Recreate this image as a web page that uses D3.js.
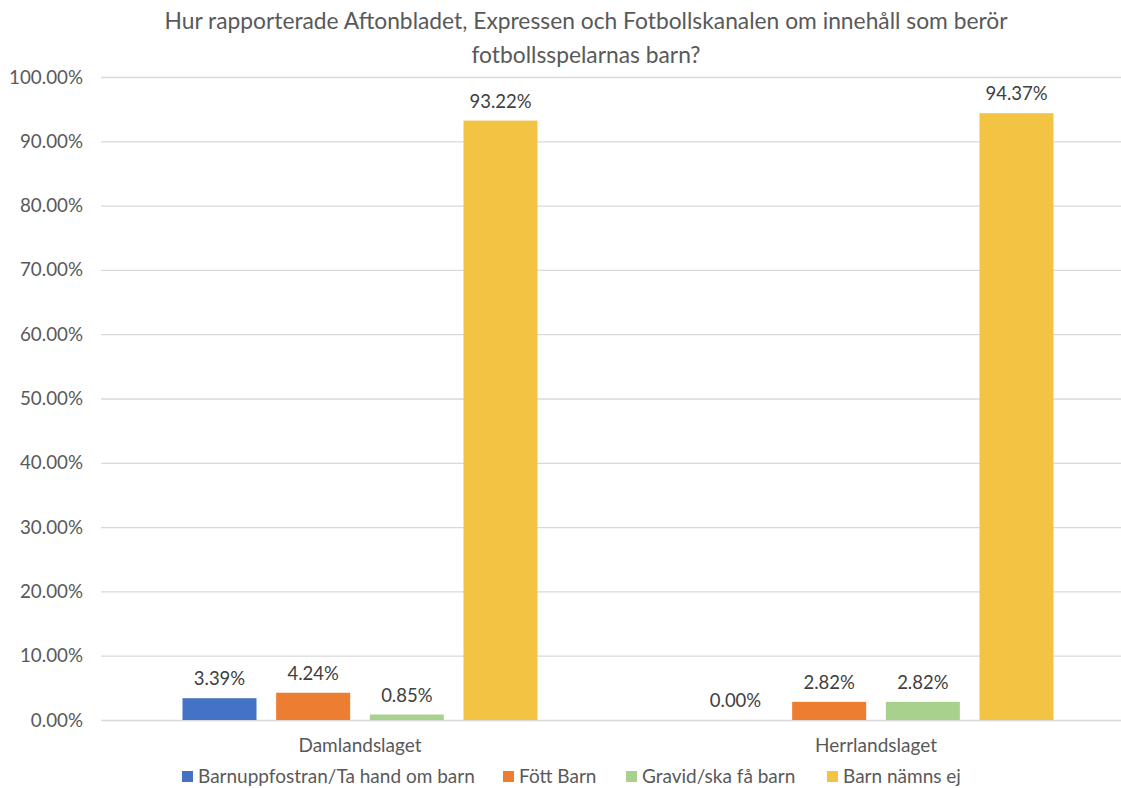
<!DOCTYPE html>
<html>
<head>
<meta charset="utf-8">
<script src="https://cdn.jsdelivr.net/npm/d3@7"></script>
<style>
  body { margin: 0; background: #fff; }
  text { font-family: Lato, "Open Sans", sans-serif; fill: #595959; }
</style>
</head>
<body>
<div id="chart"></div>
<script>
var width = 1121,
    height = 788;

var categories = ["Damlandslaget", "Herrlandslaget"];
var series = ["Barnuppfostran/Ta hand om barn", "Fött Barn", "Gravid/ska få barn", "Barn nämns ej"];
var colors = ["#4472C4", "#ED7D31", "#A9D18E", "#F3C343"];
// values per series, one entry per category
var barnuppfostran = [3.39, 0.00];
var fottBarn = [4.24, 2.82];
var gravid = [0.85, 2.82];
var barnNamnsEj = [93.22, 94.37];
var values = [barnuppfostran, fottBarn, gravid, barnNamnsEj];
var yTicks = [0, 10, 20, 30, 40, 50, 60, 70, 80, 90, 100];

var svg = d3.select("#chart").append("svg")
    .attr("width", width)
    .attr("height", height);

var y = d3.scaleLinear().domain([0, 100]).range([720, 77]);

var x0 = d3.scaleBand()
    .domain(categories)
    .range([102, 1134])
    .paddingInner(0.312)
    .paddingOuter(0.156);

var x1 = d3.scaleBand()
    .domain(d3.range(series.length))
    .range([0, x0.bandwidth()])
    .paddingInner(0.21)
    .paddingOuter(0);

// title
var title = svg.append("text")
    .attr("text-anchor", "middle")
    .attr("font-size", 22.8);
title.append("tspan").attr("x", 586).attr("y", 29)
    .text("Hur rapporterade Aftonbladet, Expressen och Fotbollskanalen om innehåll som berör");
title.append("tspan").attr("x", 586).attr("y", 63)
    .text("fotbollsspelarnas barn?");

// grid + y labels
var yAxis = svg.append("g")
    .attr("transform", "translate(101,0)")
    .call(d3.axisLeft(y).tickValues(yTicks)
        .tickSize(-1020)
        .tickPadding(18)
        .tickFormat(function(d){ return d.toFixed(2) + "%"; }));
yAxis.select(".domain").remove();
yAxis.selectAll(".tick line").attr("stroke", "#d9d9d9").attr("stroke-width", 1.3);
yAxis.selectAll(".tick text").attr("font-size", 18.8).attr("fill", "#595959")
    .style("font-family", "Lato, 'Open Sans', sans-serif");

// bars
var groups = svg.selectAll(".group")
    .data(categories)
    .enter().append("g")
    .attr("class", "group")
    .attr("transform", function(d){ return "translate(" + x0(d) + ",0)"; });

groups.selectAll("rect")
    .data(function(d, ci){ return values.map(function(v, si){ return {s: si, v: v[ci]}; }); })
    .enter().append("rect")
    .attr("x", function(d){ return x1(d.s); })
    .attr("y", function(d){ return y(d.v); })
    .attr("width", x1.bandwidth())
    .attr("height", function(d){ return y(0) - y(d.v); })
    .attr("fill", function(d){ return colors[d.s]; });

groups.selectAll(".lbl")
    .data(function(d, ci){ return values.map(function(v, si){ return {s: si, v: v[ci]}; }); })
    .enter().append("text")
    .attr("class", "lbl")
    .attr("x", function(d){ return x1(d.s) + x1.bandwidth() / 2; })
    .attr("y", function(d){ return y(d.v) - 13; })
    .attr("text-anchor", "middle")
    .attr("font-size", 18.5)
    .style("fill", "#404040")
    .text(function(d){ return d.v.toFixed(2) + "%"; });

// category labels
svg.selectAll(".cat")
    .data(categories)
    .enter().append("text")
    .attr("class", "cat")
    .attr("x", function(d){ return x0(d) + x0.bandwidth() / 2; })
    .attr("y", 752)
    .attr("text-anchor", "middle")
    .attr("font-size", 19)
    .text(function(d){ return d; });

// legend
var legendX = [182, 503, 626, 827];
var legend = svg.selectAll(".leg")
    .data(series)
    .enter().append("g")
    .attr("class", "leg")
    .attr("transform", function(d, i){ return "translate(" + legendX[i] + ",777)"; });
legend.append("rect")
    .attr("x", 0).attr("y", -6)
    .attr("width", 11).attr("height", 11)
    .attr("fill", function(d, i){ return colors[i]; });
legend.append("text")
    .attr("x", 16).attr("y", 6)
    .attr("font-size", 19)
    .text(function(d){ return d; });
</script>
</body>
</html>
